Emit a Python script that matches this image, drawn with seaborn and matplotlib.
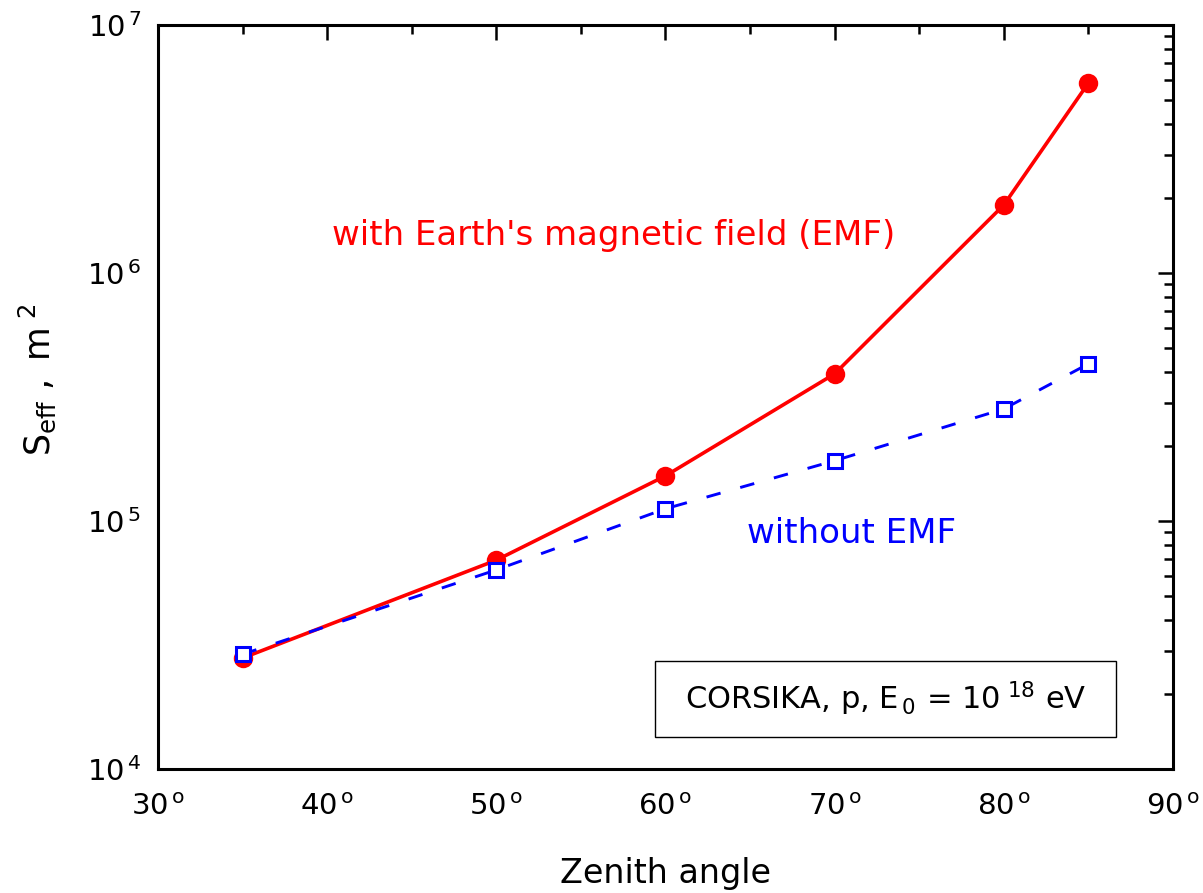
import matplotlib
matplotlib.use("Agg")
import matplotlib.pyplot as plt
import seaborn as sns
import pandas as pd
import numpy as np
from matplotlib.patches import Rectangle
from matplotlib.ticker import FixedLocator, LogLocator, NullFormatter

# Effective area vs. zenith angle (CORSIKA, protons, E0 = 1e18 eV)
zenith = [35, 50, 60, 70, 80, 85]
s_eff_emf = [2.8e4, 6.95e4, 1.52e5, 3.92e5, 1.88e6, 5.83e6]
s_eff_no_emf = [2.9e4, 6.35e4, 1.12e5, 1.75e5, 2.83e5, 4.3e5]

x_ticks = [30, 40, 50, 60, 70, 80, 90]
x_tick_labels = [r"$\mathregular{%d^{\,o}}$" % v for v in x_ticks]
y_ticks = [1e4, 1e5, 1e6, 1e7]
y_tick_labels = [r"$\mathregular{10^{\,%d}}$" % int(np.log10(v)) for v in y_ticks]

sns.set_style("white")
plt.rcParams["font.family"] = ["DejaVu Sans"]
plt.rcParams["mathtext.fontset"] = "custom"
plt.rcParams["mathtext.rm"] = "DejaVu Sans"
plt.rcParams["mathtext.it"] = "DejaVu Sans"
plt.rcParams["mathtext.bf"] = "DejaVu Sans:bold"
plt.rcParams["text.color"] = "black"
plt.rcParams["axes.labelcolor"] = "black"
plt.rcParams["xtick.color"] = "black"
plt.rcParams["ytick.color"] = "black"

fig = plt.figure(figsize=(12.03, 8.93), dpi=100)
ax = fig.add_axes([0.1313, 0.1389, 0.8437, 0.8331])

df_emf = pd.DataFrame({"zenith": zenith, "s": s_eff_emf})
df_no = pd.DataFrame({"zenith": zenith, "s": s_eff_no_emf})

sns.lineplot(data=df_no, x="zenith", y="s", ax=ax, color="#0000ff", lw=2.1,
             marker="s", markersize=10, markerfacecolor="white",
             markeredgecolor="#0000ff", markeredgewidth=2.2,
             dashes=False, zorder=3)
ax.lines[-1].set_dashes([5.0, 7.0])
sns.lineplot(data=df_emf, x="zenith", y="s", ax=ax, color="#ff0000", lw=2.6,
             marker="o", markersize=14, markeredgewidth=0, zorder=2)

ax.set_yscale("log")
ax.set_xlim(30, 90)
ax.set_ylim(1e4, 1e7)

ax.xaxis.set_major_locator(FixedLocator(x_ticks))
ax.xaxis.set_minor_locator(FixedLocator(np.arange(35, 90, 10)))
ax.set_xticklabels(x_tick_labels)
ax.yaxis.set_major_locator(FixedLocator(y_ticks))
ax.yaxis.set_minor_locator(LogLocator(base=10, subs=np.arange(2, 10)))
ax.yaxis.set_minor_formatter(NullFormatter())
ax.set_yticklabels(y_tick_labels)

ax.tick_params(which="both", direction="in", top=True, right=True, width=1.8,
               color="black", labelsize=21)
ax.tick_params(axis="x", which="major", length=11, pad=17)
ax.tick_params(axis="y", which="major", length=11, pad=12)
ax.tick_params(which="minor", length=6.5)
for sp in ax.spines.values():
    sp.set_linewidth(2.2)
    sp.set_color("black")

ax.set_xlabel("Zenith angle", fontsize=24, labelpad=26)
ax.set_ylabel(r"$\mathregular{S_{eff}\ ,\ m^{\ 2}}$", fontsize=25, labelpad=21, y=0.523)

ax.text(0.449, 0.717, "with Earth's magnetic field (EMF)", transform=ax.transAxes,
        color="#ff0000", fontsize=24.5, ha="center", va="center")
ax.text(0.683, 0.316, "without EMF", transform=ax.transAxes,
        color="#0000ff", fontsize=24.5, ha="center", va="center")

ax.add_patch(Rectangle((0.4897, 0.0430), 0.4542, 0.1021, transform=ax.transAxes,
                       fill=False, edgecolor="black", lw=1.0, zorder=4))
ax.text(0.717, 0.094, r"CORSIKA, p, E$\mathregular{_{\,0}}$ = 10$\mathregular{^{\ 18}}$ eV",
        transform=ax.transAxes, fontsize=22, ha="center", va="center", zorder=5)

fig.savefig("out.png", dpi=100)
